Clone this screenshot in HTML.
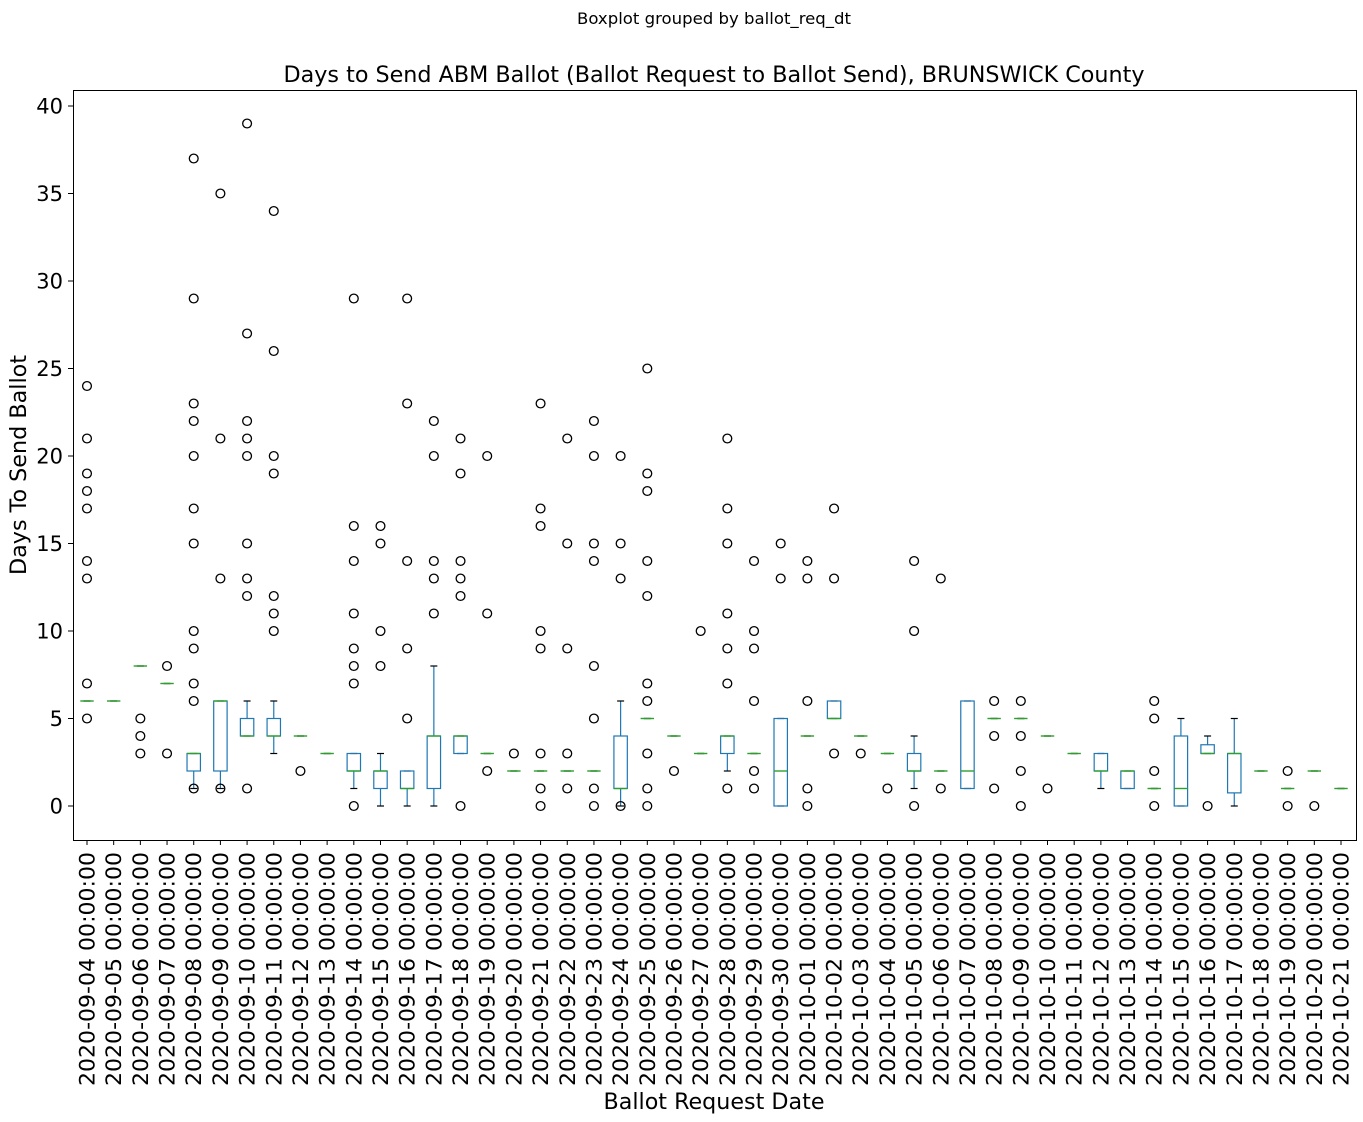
<!DOCTYPE html>
<html><head><meta charset="utf-8"><style>
body{margin:0;background:#fff;}
svg{display:block;font-family:"DejaVu Sans","Liberation Sans",sans-serif;}
</style></head><body>
<svg id="chart" width="1363" height="1122" xmlns="http://www.w3.org/2000/svg">
<text x="714" y="24" font-size="16" text-anchor="middle" textLength="274" lengthAdjust="spacingAndGlyphs">Boxplot grouped by ballot_req_dt</text>
<text x="714" y="82" font-size="22" text-anchor="middle" textLength="861" lengthAdjust="spacingAndGlyphs">Days to Send ABM Ballot (Ballot Request to Ballot Send), BRUNSWICK County</text>
<text transform="translate(26,465) rotate(-90)" font-size="22" text-anchor="middle" textLength="220" lengthAdjust="spacingAndGlyphs">Days To Send Ballot</text>
<text x="714" y="1109" font-size="22" text-anchor="middle" textLength="221" lengthAdjust="spacingAndGlyphs">Ballot Request Date</text>
<g id="plot"></g>
<rect x="73.5" y="90.5" width="1283" height="750" fill="none" stroke="#000" stroke-width="1"/>
</svg>
<script>
const categories=["2020-09-04","2020-09-05","2020-09-06","2020-09-07","2020-09-08","2020-09-09","2020-09-10","2020-09-11","2020-09-12","2020-09-13","2020-09-14","2020-09-15","2020-09-16","2020-09-17","2020-09-18","2020-09-19","2020-09-20","2020-09-21","2020-09-22","2020-09-23","2020-09-24","2020-09-25","2020-09-26","2020-09-27","2020-09-28","2020-09-29","2020-09-30","2020-10-01","2020-10-02","2020-10-03","2020-10-04","2020-10-05","2020-10-06","2020-10-07","2020-10-08","2020-10-09","2020-10-10","2020-10-11","2020-10-12","2020-10-13","2020-10-14","2020-10-15","2020-10-16","2020-10-17","2020-10-18","2020-10-19","2020-10-20","2020-10-21"];
const whisLo=[6,6,8,7,1,1,4,3,4,3,1,0,0,0,3,3,2,2,2,2,0,5,4,3,2,3,0,4,5,4,3,1,2,1,5,5,4,3,1,1,1,0,3,0,2,1,2,1];
const q1=[6,6,8,7,2,2,4,4,4,3,2,1,1,1,3,3,2,2,2,2,1,5,4,3,3,3,0,4,5,4,3,2,2,1,5,5,4,3,2,1,1,0,3,0.75,2,1,2,1];
const medians=[6,6,8,7,3,6,4,4,4,3,2,2,1,4,4,3,2,2,2,2,1,5,4,3,4,3,2,4,5,4,3,2,2,2,5,5,4,3,2,2,1,1,3,3,2,1,2,1];
const q3=[6,6,8,7,3,6,5,5,4,3,3,2,2,4,4,3,2,2,2,2,4,5,4,3,4,3,5,4,6,4,3,3,2,6,5,5,4,3,3,2,1,4,3.5,3,2,1,2,1];
const whisHi=[6,6,8,7,3,6,6,6,4,3,3,3,2,8,4,3,2,2,2,2,6,5,4,3,4,3,5,4,6,4,3,4,2,6,5,5,4,3,3,2,1,5,4,5,2,1,2,1];
const fliers=[[5,7,13,14,17,18,19,21,24],[],[3,4,5],[3,8],[1,6,7,9,10,15,17,20,22,23,29,37],[1,13,21,35],[1,12,13,15,20,21,22,27,39],[10,11,12,19,20,26,34],[2],[],[0,7,8,9,11,14,16,29],[8,10,15,16],[5,9,14,23,29],[11,13,14,20,22],[0,12,13,14,19,21],[2,11,20],[3],[0,1,3,9,10,16,17,23],[1,3,9,15,21],[0,1,5,8,14,15,20,22],[0,13,15,20],[0,1,3,6,7,12,14,18,19,25],[2],[10],[1,7,9,11,15,17,21],[1,2,6,9,10,14],[13,15],[0,1,6,13,14],[3,13,17],[3],[1],[0,10,14],[1,13],[],[1,4,6],[0,2,4,6],[1],[],[],[],[0,2,5,6],[],[0],[],[],[0,2],[0],[]];
const yTicks=[0,5,10,15,20,25,30,35,40];

const NS="http://www.w3.org/2000/svg";
const g=document.getElementById('plot');
const yS=v=>806-17.5*v;
const xS=i=>87+i*(1341-87)/47;
function mk(t,a,p){const e=document.createElementNS(NS,t);for(const k in a)e.setAttribute(k,a[k]);(p||g).appendChild(e);return e;}
yTicks.forEach(v=>{
  const tk=mk('line',{x1:68,x2:73,y1:yS(v),y2:yS(v),stroke:'#000'});
  
  
  const t=mk('text',{x:63,y:yS(v)+7.5,'font-size':21,'text-anchor':'end'});
  
  
  t.textContent=v;
});
categories.forEach((c,i)=>{
  const x=xS(i);
  const tk=mk('line',{x1:x,x2:x,y1:840,y2:845,stroke:'#000'});
  
  
  const t=mk('text',{transform:`translate(${x+7.5},852) rotate(-90)`,'font-size':21,'text-anchor':'end',textLength:234,lengthAdjust:'spacingAndGlyphs'});
  
  
  t.textContent=c+' 00:00:00';
  const bg=mk('g',{});
  
  
  const blue='#1f77b4';
  mk('line',{x1:x,x2:x,y1:yS(q1[i]),y2:yS(whisLo[i]),stroke:blue,'stroke-width':1.2},bg);
  mk('line',{x1:x,x2:x,y1:yS(q3[i]),y2:yS(whisHi[i]),stroke:blue,'stroke-width':1.2},bg);
  mk('line',{x1:x-3.5,x2:x+3.5,y1:yS(whisLo[i]),y2:yS(whisLo[i]),stroke:'#000','stroke-width':1.2},bg);
  mk('line',{x1:x-3.5,x2:x+3.5,y1:yS(whisHi[i]),y2:yS(whisHi[i]),stroke:'#000','stroke-width':1.2},bg);
  mk('rect',{x:x-6.7,y:yS(q3[i]),width:13.4,height:Math.max(0,yS(q1[i])-yS(q3[i])),fill:'none',stroke:blue,'stroke-width':1.2},bg);
  mk('line',{x1:x-6.7,x2:x+6.7,y1:yS(medians[i]),y2:yS(medians[i]),stroke:'#2ca02c','stroke-width':1.4},bg);
  fliers[i].forEach(f=>{
    const c2=mk('circle',{cx:x,cy:yS(f),r:4.4,fill:'none',stroke:'#000','stroke-width':1.3},bg);
    
    
  });
});
</script>
</body></html>
